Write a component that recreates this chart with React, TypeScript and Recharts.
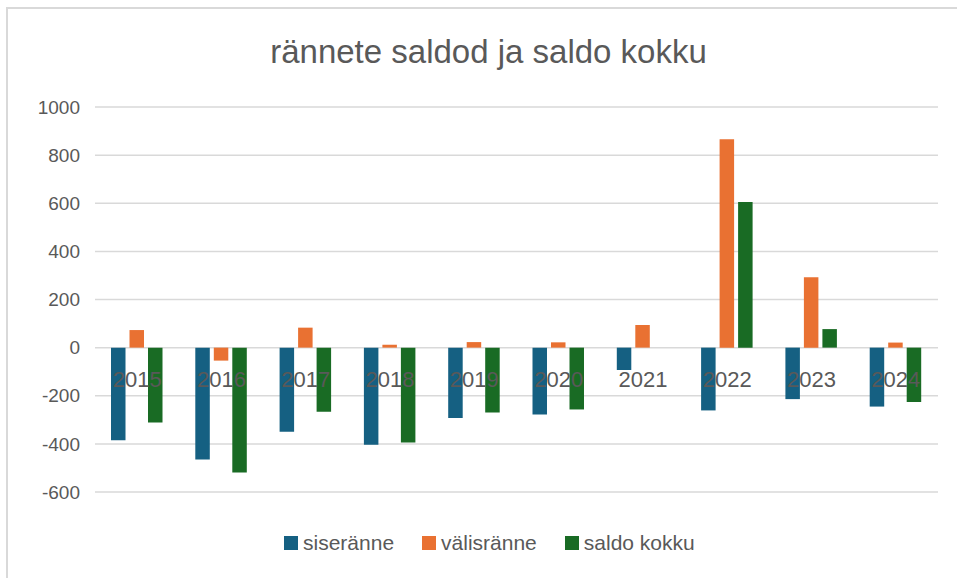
import { BarChart, Bar, XAxis, YAxis, CartesianGrid, Legend } from 'recharts'

const years = ['2015', '2016', '2017', '2018', '2019', '2020', '2021', '2022', '2023', '2024']
const siseranne = [-385, -465, -350, -404, -292, -278, -93, -261, -214, -245]
const valisranne = [73, -54, 83, 12, 23, 22, 94, 866, 292, 21]
const saldoKokku = [-311, -519, -267, -394, -270, -257, 0, 605, 77, -226]
const yTicks = [-600, -400, -200, 0, 200, 400, 600, 800, 1000]

const series = [
  { key: 'siseranne', name: 'siseränne', color: '#156082' },
  { key: 'valisranne', name: 'välisränne', color: '#E97132' },
  { key: 'saldo', name: 'saldo kokku', color: '#196B24' },
]

const data = years.map((year, i) => ({
  year,
  siseranne: siseranne[i],
  valisranne: valisranne[i],
  saldo: saldoKokku[i],
}))

const W = 957
const H = 578
const MARGIN = { top: 107, right: 19, left: 0, bottom: 56 }
const X_AXIS_H = 30
const Y_MIN = -600
const Y_MAX = 1000
const PLOT_H = H - MARGIN.top - MARGIN.bottom - X_AXIS_H
const ZERO_Y = MARGIN.top + (PLOT_H * Y_MAX) / (Y_MAX - Y_MIN)
const FONT = '"Liberation Sans", Arial, sans-serif'
const TEXT = '#595959'

// excel puts category labels right under the zero line
function YearTick(props: any) {
  const { x, payload } = props
  return (
    <text x={x} y={ZERO_Y + 39} textAnchor="middle" fill={TEXT} fontSize={22} fontFamily={FONT}>
      {payload.value}
    </text>
  )
}

function LegendContent() {
  return (
    <div style={{ display: 'flex', gap: 28, fontFamily: FONT, fontSize: 21, color: TEXT }}>
      {series.map((s) => (
        <div key={s.key} style={{ display: 'flex', alignItems: 'center', gap: 5 }}>
          <span style={{ width: 14, height: 14, background: s.color, display: 'inline-block' }} />
          <span>{s.name}</span>
        </div>
      ))}
    </div>
  )
}

export default function App() {
  return (
    <div style={{ position: 'absolute', left: 0, top: 0, width: W, height: H, background: '#fff', overflow: 'hidden' }}>
      <div
        style={{
          position: 'absolute',
          left: 6,
          top: 7,
          width: W,
          height: H,
          borderTop: '2px solid #d9d9d9',
          borderLeft: '2px solid #d9d9d9',
        }}
      />
      <div
        style={{
          position: 'absolute',
          left: 0,
          top: 35,
          width: 977,
          textAlign: 'center',
          fontFamily: FONT,
          fontSize: 33,
          lineHeight: '33px',
          color: TEXT,
        }}
      >
        rännete saldod ja saldo kokku
      </div>
      <div style={{ position: 'absolute', left: 0, top: 0 }}>
        <BarChart width={W} height={H} data={data} margin={MARGIN} barGap={4} barSize={14.5}>
          <CartesianGrid vertical={false} stroke="#d9d9d9" strokeWidth={1.5} />
          <YAxis
            type="number"
            domain={[Y_MIN, Y_MAX]}
            ticks={yTicks}
            width={95}
            axisLine={false}
            tickLine={false}
            tickMargin={9}
            tick={{ fill: TEXT, fontSize: 19, fontFamily: FONT }}
            interval={0}
          />
          {series.map((s) => (
            <Bar key={s.key} dataKey={s.key} name={s.name} fill={s.color} isAnimationActive={false} />
          ))}
          <XAxis
            dataKey="year"
            height={X_AXIS_H}
            axisLine={false}
            tickLine={false}
            interval={0}
            tick={<YearTick />}
          />
          <Legend
            layout="horizontal"
            verticalAlign="middle"
            align="center"
            wrapperStyle={{ top: 531, left: 284, width: 'auto' }}
            content={<LegendContent />}
          />
        </BarChart>
      </div>
    </div>
  )
}
